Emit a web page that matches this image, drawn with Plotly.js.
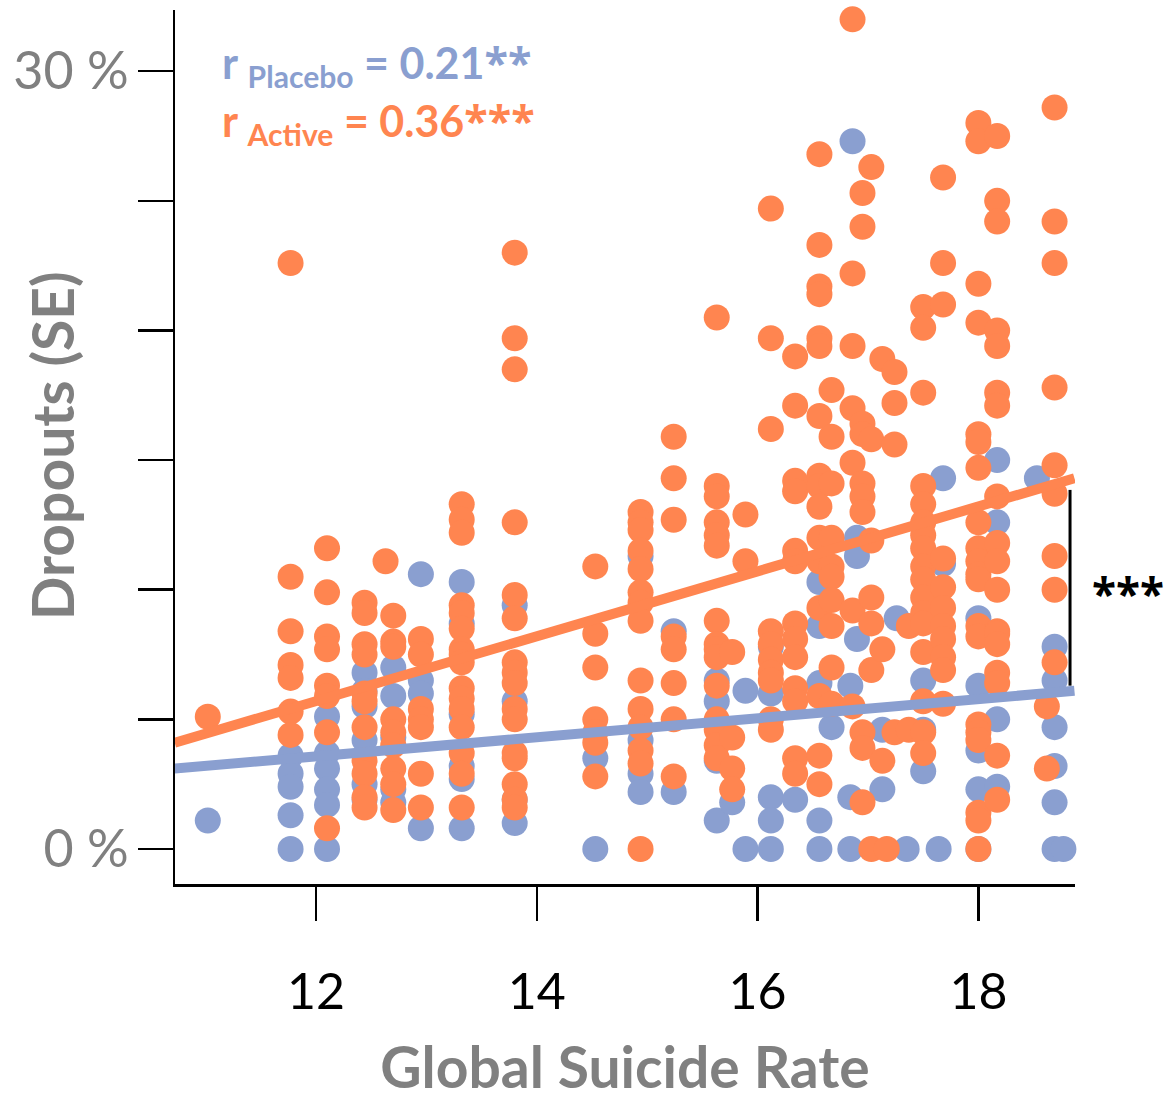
<!DOCTYPE html>
<html>
<head>
<meta charset="utf-8">
<script src="https://cdn.plot.ly/plotly-3.0.1.min.js"></script>
<style>html,body{margin:0;padding:0;background:#fff;}#chart{width:1166px;height:1100px;}</style>
</head>
<body>
<div id="chart"></div>
<script>
// Global suicide rate (x) columns and dropout SE (%) values
const activeCols = [11.02, 11.77, 12.10, 12.44, 12.63, 12.70, 12.95, 13.32, 13.80, 14.53, 14.94, 15.24, 15.63, 15.77, 15.89, 16.12, 16.34, 16.56, 16.67, 16.86, 16.95, 17.03, 17.13, 17.17, 17.24, 17.37, 17.50, 17.68, 18.00, 18.17, 18.62, 18.69];
const activeVals = [
  [5.1],
  [22.6, 10.5, 8.4, 7.1, 6.6, 5.3, 4.4],
  [11.6, 9.9, 8.2, 7.7, 6.3, 5.9, 4.5, 0.8],
  [9.5, 9.1, 7.9, 7.5, 6.0, 5.7, 4.7, 3.4, 2.9, 2.0, 1.6],
  [11.1],
  [9.0, 8.0, 7.8, 5.0, 4.5, 4.0, 3.1, 2.5, 1.5],
  [8.1, 7.5, 5.4, 5.0, 4.7, 2.9, 1.6],
  [13.3, 12.7, 12.2, 9.4, 9.1, 8.5, 7.7, 7.5, 7.2, 6.2, 5.8, 5.4, 4.7, 3.7, 2.9, 1.6],
  [23.0, 19.7, 18.5, 12.6, 9.8, 8.9, 7.2, 6.8, 6.4, 5.4, 5.0, 3.7, 3.5, 2.5, 1.9, 1.6],
  [10.9, 8.3, 7.0, 5.0, 4.5, 4.1, 2.8],
  [13.0, 12.6, 12.3, 11.5, 10.8, 9.9, 9.5, 8.8, 6.5, 5.4, 4.7, 3.8, 3.3, 0],
  [15.9, 14.3, 12.7, 8.2, 7.7, 6.4, 5.0, 2.8],
  [20.5, 14.0, 13.6, 12.6, 12.1, 11.7, 8.8, 7.9, 7.7, 7.4, 6.3, 5.0, 4.6, 4.0, 3.5],
  [7.6, 4.3, 3.1, 2.3],
  [12.9, 11.1],
  [24.7, 19.7, 16.2, 8.4, 7.9, 7.3, 6.8, 6.5, 5.0, 4.6],
  [19.0, 17.1, 14.2, 13.8, 11.5, 11.1, 8.7, 8.1, 7.4, 6.2, 5.7, 3.5, 2.9],
  [26.8, 23.3, 21.7, 21.4, 19.7, 19.4, 16.7, 14.4, 14.0, 13.2, 12.0, 11.1, 9.3, 5.9, 3.6, 2.5],
  [17.7, 15.9, 14.1, 12.0, 10.9, 10.5, 9.6, 8.6, 7.0, 5.6],
  [32.0, 22.2, 19.4, 17.0, 14.9, 9.2, 5.5],
  [25.3, 24.0, 16.4, 16.0, 14.1, 13.6, 13.0, 4.5, 3.9, 1.8],
  [26.3, 15.8, 11.9, 9.7, 8.7, 6.9, 0],
  [18.9, 7.7, 3.4],
  [0],
  [18.4, 17.2, 15.6, 4.5],
  [8.6, 4.6],
  [20.9, 20.1, 17.6, 14.0, 13.3, 12.6, 12.1, 11.6, 10.9, 10.4, 9.7, 9.1, 8.7, 7.6, 5.7, 4.5, 3.7],
  [25.9, 22.6, 21.0, 11.2, 10.1, 9.3, 8.6, 8.1, 7.4, 6.9, 5.6],
  [28.0, 27.3, 21.8, 20.3, 16.0, 15.7, 14.7, 12.6, 11.6, 11.1, 10.6, 10.4, 8.6, 8.2, 4.8, 4.5, 4.2, 1.4, 1.1, 0],
  [27.5, 25.0, 24.2, 20.0, 19.4, 17.6, 17.1, 13.6, 11.8, 11.1, 10.0, 8.4, 8.3, 7.9, 6.8, 6.4, 3.6, 1.9],
  [5.5, 3.1],
  [28.6, 24.2, 22.6, 17.8, 14.8, 13.7, 11.3, 10.0, 7.2]
];
const placeboCols = [11.02, 11.77, 12.10, 12.44, 12.70, 12.95, 13.32, 13.80, 14.53, 14.94, 15.24, 15.63, 15.77, 15.89, 16.12, 16.34, 16.56, 16.67, 16.84, 16.86, 16.90, 17.13, 17.26, 17.35, 17.50, 17.64, 17.68, 18.00, 18.17, 18.53, 18.69, 18.77];
const placeboVals = [
  [1.1],
  [3.6, 2.9, 2.4, 1.3, 0],
  [5.1, 3.7, 3.1, 2.3, 1.7, 0],
  [6.8, 6.1, 5.5, 4.2, 2.5, 1.9],
  [7.0, 5.9, 4.3, 2.3, 1.8],
  [10.6, 6.5, 6.0, 0.8],
  [10.3, 8.7, 5.2, 3.2, 2.7, 0.8],
  [9.4, 5.7, 1.9, 1.0],
  [3.5, 0],
  [11.3, 4.2, 2.9, 2.2],
  [8.4, 2.2],
  [6.5, 5.7, 3.4, 1.1],
  [1.8],
  [6.1, 0],
  [7.8, 6.0, 2.0, 1.1, 0],
  [1.9],
  [10.3, 8.6, 6.4, 1.1, 0],
  [4.7],
  [6.3, 2.0, 0],
  [27.3],
  [12.0, 11.3, 8.1],
  [4.6, 2.3],
  [8.9],
  [0],
  [6.5, 4.6, 3.0],
  [0],
  [14.3, 11.0],
  [8.9, 6.3, 3.8, 2.3, 0],
  [15.0, 12.6, 5.0, 2.4],
  [14.3],
  [7.8, 6.5, 4.7, 3.2, 1.8, 0],
  [0]
];
// Fitted regression lines (end values)
const trendX = [10.72, 18.87];
const activeTrend = [4.1, 14.3];
const placeboTrend = [3.1, 6.1];
// Significance bracket between the two fits at the right edge
const bracketX = 18.83;
const bracketY = [6.3, 13.85];
const yTickVals = [0, 5, 10, 15, 20, 25, 30];
const yLabelVals = [0, 30];
const yLabelText = ['0 %', '30 %'];
const xTickVals = [12, 14, 16, 18];

const BLUE = '#8a9fd0';
const ORANGE = '#ff8550';
const GRAY = '#808080';
const FONT = 'Lato, "Open Sans", sans-serif';
const YRANGE = [-1.35, 32.36];
const STAR = "<span style=\"font-family:'Open Sans'\">";

function flatten(cols, vals) {
  const xs = [], ys = [];
  cols.forEach((c, i) => vals[i].forEach(v => { xs.push(c); ys.push(v); }));
  return {x: xs, y: ys};
}
const pl = flatten(placeboCols, placeboVals);
const ac = flatten(activeCols, activeVals);

const traces = [
  {x: pl.x, y: pl.y, type: 'scatter', mode: 'markers', name: 'Placebo',
   marker: {color: BLUE, size: 26, line: {width: 0}}, cliponaxis: false},
  {x: ac.x, y: ac.y, type: 'scatter', mode: 'markers', name: 'Active',
   marker: {color: ORANGE, size: 26, line: {width: 0}}, cliponaxis: false},
  {x: trendX, y: activeTrend, type: 'scatter', mode: 'lines', name: 'Active fit',
   line: {color: ORANGE, width: 10}},
  {x: trendX, y: placeboTrend, type: 'scatter', mode: 'lines', name: 'Placebo fit',
   yaxis: 'y2', line: {color: BLUE, width: 10}}
];

const layout = {
  width: 1166, height: 1100,
  margin: {l: 175, r: 91, t: 10, b: 216},
  paper_bgcolor: '#fff', plot_bgcolor: 'rgba(0,0,0,0)',
  showlegend: false,
  font: {family: FONT},
  xaxis: {
    range: [10.723, 18.875], showgrid: false, zeroline: false,
    showline: true, linecolor: '#000', linewidth: 2.5,
    tickmode: 'array', tickvals: xTickVals, ticks: 'outside', ticklen: 34, tickwidth: 2.5, tickcolor: '#000',
    tickfont: {family: FONT, size: 50, color: '#000'}, ticklabelstandoff: 28,
    title: {text: '<b>Global Suicide Rate</b>', font: {family: FONT, size: 57, color: GRAY}, standoff: 32}
  },
  yaxis: {
    range: YRANGE, showgrid: false, zeroline: false,
    showline: true, linecolor: '#000', linewidth: 2.5,
    tickmode: 'array', tickvals: yTickVals, ticks: 'outside', ticklen: 35, tickwidth: 2.5, tickcolor: '#000',
    showticklabels: false
  },
  yaxis2: {
    overlaying: 'y', side: 'left', range: YRANGE, showgrid: false, zeroline: false, showline: false,
    tickmode: 'array', tickvals: yLabelVals, ticktext: yLabelText, ticks: 'outside', ticklen: 35, tickwidth: 2.5, tickcolor: '#000',
    tickfont: {family: FONT, size: 52, color: GRAY}, ticklabelstandoff: 0
  },
  shapes: [
    {type: 'line', xref: 'x', yref: 'y', x0: bracketX, x1: bracketX, y0: bracketY[0], y1: bracketY[1],
     line: {color: '#000', width: 3}}
  ],
  annotations: [
    {xref: 'paper', yref: 'paper', x: -0.1367, y: 0.5023, xanchor: 'center', yanchor: 'middle', showarrow: false, textangle: -90,
     text: '<b>Dropouts (SE)</b>', font: {family: FONT, size: 57, color: GRAY}},
    {xref: 'paper', yref: 'paper', x: 0.05, y: 0.976, xanchor: 'left', yanchor: 'top', showarrow: false,
     text: '<b>r <sub>Placebo</sub> = 0.21' + STAR + '**</span></b>', font: {family: FONT, size: 43, color: BLUE}},
    {xref: 'paper', yref: 'paper', x: 0.05, y: 0.910, xanchor: 'left', yanchor: 'top', showarrow: false,
     text: '<b>r <sub>Active</sub> = 0.36' + STAR + '***</span></b>', font: {family: FONT, size: 43, color: ORANGE}},
    {xref: 'paper', yref: 'y', x: 1.0585, y: 9.87, xanchor: 'center', yanchor: 'middle', showarrow: false,
     text: '<b>***</b>', font: {family: '"Open Sans", sans-serif', size: 44, color: '#000'}}
  ]
};

Plotly.newPlot('chart', traces, layout, {staticPlot: true, displayModeBar: false});
</script>
</body>
</html>
